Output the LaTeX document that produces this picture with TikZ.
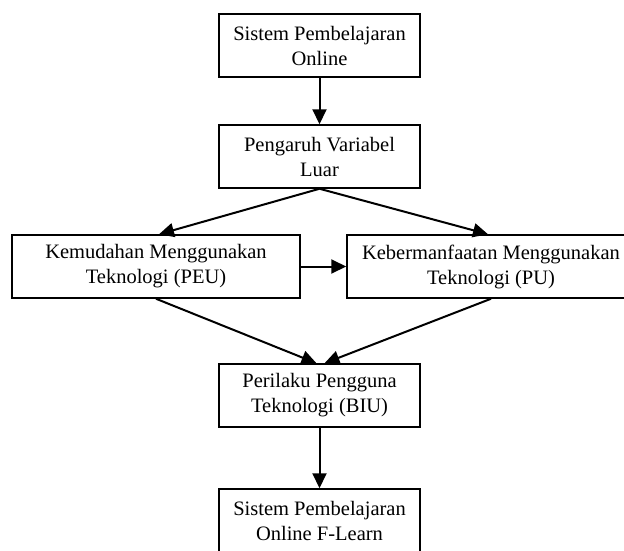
\documentclass[tikz,border=0pt]{standalone}
\usepackage{fontspec}
\setmainfont{Liberation Serif}
\usetikzlibrary{arrows.meta}
\tikzstyle{box}=[draw=black, line width=1.5pt, fill=white, minimum height=63pt, align=center, inner sep=2pt, font=\fontsize{20.5}{25}\selectfont]
\tikzstyle{arrow}=[draw=black, line width=2pt, -{Triangle[length=15pt, width=14pt]}]

\begin{document}
\begin{tikzpicture}[x=1pt, y=-1pt]
		   \useasboundingbox (0, 0) rectangle (624, 550);
		   \begin{scope}
			   \clip (0, 0) rectangle (624, 550);
			   \node (sistem) at (319.5, 45.5)[box, minimum width=201pt] {Sistem Pembelajaran\\Online};
			   \node (luar) at (319.5, 156.5)[box, minimum width=201pt] {Pengaruh Variabel\\Luar};
			   \node (peu) at (156, 266.5)[box, minimum width=288pt] {Kemudahan Menggunakan\\Teknologi (PEU)};
			   \node (pu) at (491, 266.5)[box, minimum width=288pt] {Kebermanfaatan Menggunakan\\Teknologi (PU)};
			   \node (biu) at (319.5, 395.5)[box, minimum width=201pt] {Perilaku Pengguna\\Teknologi (BIU)};
			   \node (flearn) at (319.5, 520.5)[box, minimum width=201pt] {Sistem Pembelajaran\\Online F-Learn};
		   \end{scope}
		   \begin{scope}
			   \path (sistem) edge [arrow] (luar);
			   \path (luar.south) edge [arrow] ([xshift=3pt]peu.north);
			   \path (luar.south) edge [arrow] ([xshift=-3pt]pu.north);
			   \path (peu) edge [arrow] (pu);
			   \path (peu.south) edge [arrow] ([xshift=-3pt]biu.north);
			   \path (pu.south) edge [arrow] ([xshift=5pt]biu.north);
			   \path (biu) edge [arrow] (flearn);
		   \end{scope}
	   \end{tikzpicture}
\end{document}
